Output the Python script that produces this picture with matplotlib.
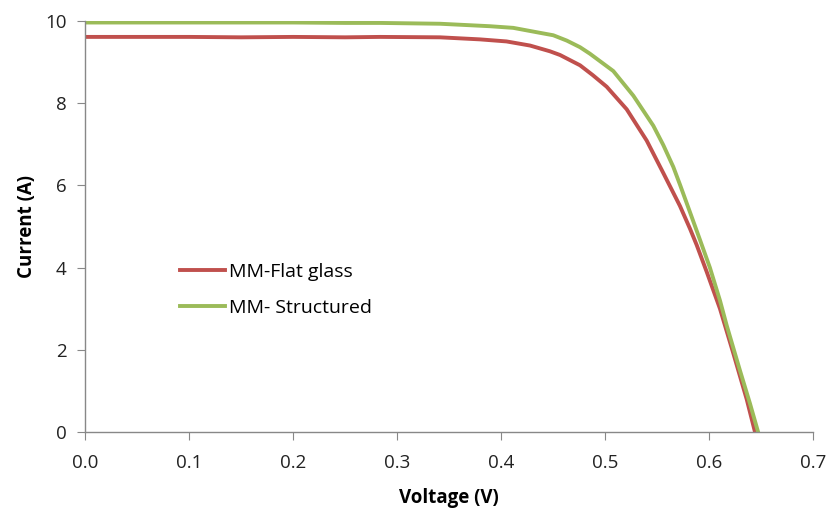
import matplotlib.pyplot as plt

plt.rcParams['font.family'] = ['Open Sans', 'DejaVu Sans']

# I-V curves
v_flat = [0.0, 0.05, 0.10, 0.15, 0.20, 0.25, 0.2834, 0.341, 0.3795, 0.405, 0.4276, 0.4468,
          0.4565, 0.4757, 0.488, 0.5013, 0.5206, 0.5398, 0.5558, 0.5622, 0.5718, 0.5814, 0.5879,
          0.5975, 0.6103, 0.6231, 0.636, 0.644]
i_flat = [9.61, 9.61, 9.61, 9.60, 9.61, 9.60, 9.61, 9.60, 9.55, 9.50, 9.40, 9.26,
          9.17, 8.92, 8.68, 8.40, 7.85, 7.09, 6.30, 5.98, 5.50, 4.95, 4.55,
          3.90, 3.00, 1.92, 0.80, 0.0]

v_struct = [0.0, 0.05, 0.10, 0.15, 0.20, 0.25, 0.2834, 0.341, 0.389, 0.4115, 0.437, 0.45,
            0.463, 0.4757, 0.4853, 0.5077, 0.527, 0.5462, 0.5558, 0.5654, 0.5718, 0.581,
            0.591, 0.6006, 0.6103, 0.6167, 0.6295, 0.6391, 0.647]
i_struct = [9.96, 9.96, 9.96, 9.96, 9.96, 9.95, 9.95, 9.93, 9.87, 9.83, 9.71, 9.65,
            9.52, 9.36, 9.20, 8.78, 8.18, 7.45, 6.98, 6.45, 6.02, 5.38,
            4.68, 4.00, 3.20, 2.60, 1.50, 0.70, 0.0]

fz = 13.5
red = '#c0504d'
green = '#9bbb59'

fig = plt.figure(figsize=(8.29, 5.09), dpi=100)
ax = fig.add_axes([0.103, 0.151, 0.878, 0.808])

ax.plot(v_flat, i_flat, '-', color=red, label='MM-Flat glass', linewidth=2.8)
ax.plot(v_struct, i_struct, '-', color=green, label='MM- Structured', linewidth=2.8)

ax.set_xlim(0, 0.7)
ax.set_ylim(0, 10)
ax.set_xticks([0.0, 0.1, 0.2, 0.3, 0.4, 0.5, 0.6, 0.7])
ax.set_xticklabels(['0.0', '0.1', '0.2', '0.3', '0.4', '0.5', '0.6', '0.7'])
ax.set_yticks([0, 2, 4, 6, 8, 10])

for s in ['top', 'right']:
    ax.spines[s].set_visible(False)
for s in ['left', 'bottom']:
    ax.spines[s].set_color('#888888')
    ax.spines[s].set_linewidth(1.0)
ax.tick_params(length=5.5, color='#888888', labelsize=fz, labelcolor='#222222')
ax.tick_params(axis='x', pad=10)
ax.tick_params(axis='y', pad=8)

ax.set_xlabel('Voltage (V)', fontsize=13.5, fontweight='bold', labelpad=12)
ax.set_ylabel('Current (A)', fontsize=13.5, fontweight='bold', labelpad=6)

ax.legend(loc='upper left', bbox_to_anchor=(0.106, 0.455), frameon=False, fontsize=14,
          handlelength=2.3, handletextpad=0.2, labelspacing=0.95)

plt.savefig('out.png', dpi=100)
plt.close()
